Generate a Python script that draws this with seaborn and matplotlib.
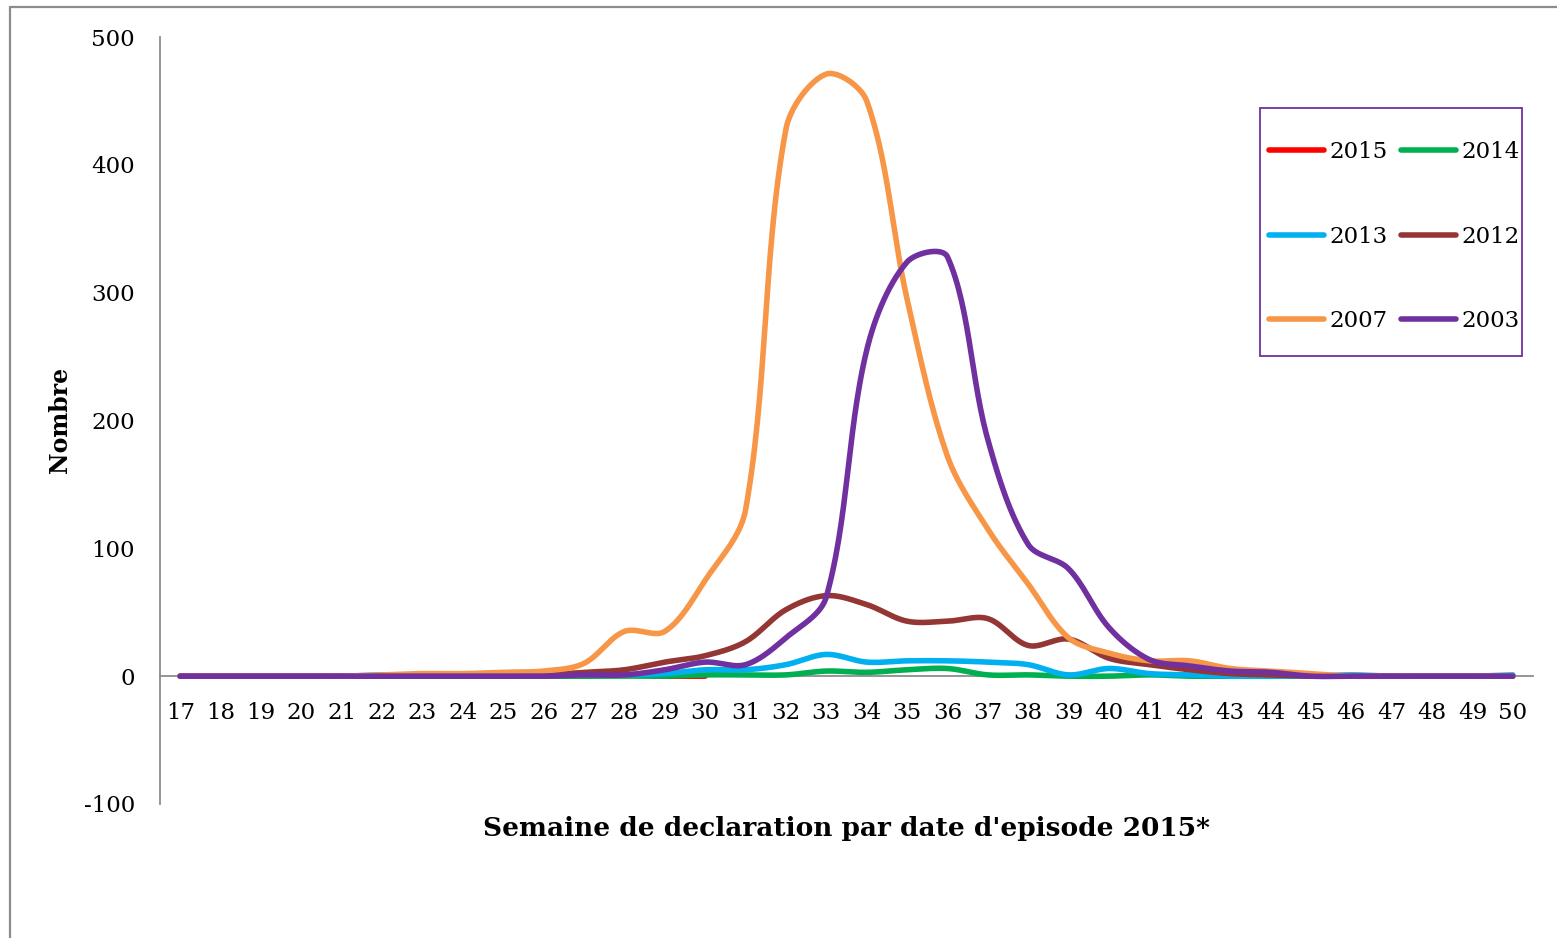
import numpy as np
import pandas as pd
import matplotlib
matplotlib.use("Agg")
import matplotlib.pyplot as plt
from matplotlib.lines import Line2D
from matplotlib.patches import Rectangle
import seaborn as sns

weeks = list(range(17, 51))
y2015 = [0, 0, 0, 0, 0, 0, 0, 0, 0, 0, 0, 1, 0, 0]  # weeks 17-30 only
y2014 = [0, 0, 0, 0, 0, 0, 0, 0, 0, 0, 0, 0, 0, 1, 1, 1, 4, 3, 5, 6, 1, 1, 0, 0, 1, 0, 0, 0, 0, 0, 0, 0, 0, 0]
y2013 = [0, 0, 0, 0, 0, 1, 1, 1, 1, 1, 1, 1, 2, 5, 5, 9, 17, 11, 12, 12, 11, 9, 1, 6, 2, 1, 0, 0, 0, 1, 0, 0, 0, 1]
y2012 = [0, 0, 0, 0, 0, 0, 0, 0, 0, 1, 3, 5, 11, 16, 27, 52, 63, 56, 43, 43, 45, 24, 29, 14, 9, 5, 2, 1, 0, 0, 0, 0, 0, 0]
y2007 = [0, 0, 0, 0, 0, 1, 2, 2, 3, 4, 10, 35, 35, 75, 130, 428, 471, 450, 295, 172, 115, 72, 30, 18, 12, 12, 6, 4, 2, 0, 0, 0, 0, 0]
y2003 = [0, 0, 0, 0, 0, 0, 0, 0, 0, 0, 1, 1, 5, 11, 9, 30, 62, 255, 324, 328, 185, 103, 84, 38, 13, 8, 4, 3, 0, 0, 0, 0, 0, 0]

series_names = ["2015", "2014", "2013", "2012", "2007", "2003"]
series_values = [y2015, y2014, y2013, y2012, y2007, y2003]
colors = ["#FF0000", "#00B050", "#00B0F0", "#943634", "#F79646", "#7030A0"]
yticks = [-100, 0, 100, 200, 300, 400, 500]
xlabel = "Semaine de declaration par date d'episode 2015*"
ylabel = "Nombre"

# pixel scale of the plot (for Excel-like smoothing computed in screen space)
SX, SY = 40.4, 1.28


def smooth(xs, ys, n=30):
    """Excel-style smoothed line (length-weighted Bezier) for rendering."""
    P = np.column_stack([np.asarray(xs, float) * SX, np.asarray(ys, float) * SY])
    m = len(P)
    if m < 2:
        return list(xs), list(ys)
    cout = np.zeros_like(P)
    cin = np.zeros_like(P)
    for i in range(m):
        prev = P[i - 1] if i > 0 else P[i]
        nxt = P[i + 1] if i < m - 1 else P[i]
        d1 = np.hypot(*(P[i] - prev))
        d2 = np.hypot(*(nxt - P[i]))
        T = nxt - prev
        s = d1 + d2
        if s == 0:
            cout[i] = P[i]
            cin[i] = P[i]
            continue
        cout[i] = P[i] + T * (d2 / s) / 3
        cin[i] = P[i] - T * (d1 / s) / 3
    t = np.linspace(0, 1, n, endpoint=False)[:, None]
    pts = []
    for i in range(m - 1):
        b = ((1 - t) ** 3 * P[i] + 3 * (1 - t) ** 2 * t * cout[i]
             + 3 * (1 - t) * t ** 2 * cin[i + 1] + t ** 3 * P[i + 1])
        pts.append(b)
    pts.append(P[-1][None, :])
    pts = np.vstack(pts)
    return list(pts[:, 0] / SX), list(pts[:, 1] / SY)


rows = []
for name, vals in zip(series_names, series_values):
    sx, sy = smooth(weeks[:len(vals)], vals)
    for k, (a, b) in enumerate(zip(sx, sy)):
        rows.append({"week": a, "value": b, "year": name, "order": k})
df = pd.DataFrame(rows)

sns.set_theme(style="white")
plt.rcParams["font.family"] = ["DejaVu Serif"]
plt.rcParams["text.color"] = "black"

fig = plt.figure(figsize=(15.57, 9.38), dpi=100)
ax = fig.add_axes([160 / 1557, 1 - 804 / 938, (1533 - 160) / 1557, (804 - 37) / 938])

sns.lineplot(data=df, x="week", y="value", hue="year", hue_order=series_names,
             palette=dict(zip(series_names, colors)), sort=False, estimator=None,
             units="year", linewidth=4.0, ax=ax, legend=False,
             solid_capstyle="round", solid_joinstyle="round")

ax.set_xlim(16.5, 50.5)
ax.set_ylim(-100, 500)
ax.set_xticks(weeks)
ax.set_xticklabels([str(w) for w in weeks])
ax.set_yticks(yticks)
ax.set_yticklabels([str(v) for v in yticks])
ax.tick_params(axis="both", length=0, labelsize=16.5, colors="black")
ax.tick_params(axis="x", pad=18.5)
ax.tick_params(axis="y", pad=18)

for s in ["top", "right"]:
    ax.spines[s].set_visible(False)
ax.spines["bottom"].set_position(("data", 0))
ax.spines["bottom"].set_color("#8c8c8c")
ax.spines["bottom"].set_linewidth(1.3)
ax.spines["bottom"].set_zorder(0)
ax.spines["left"].set_color("#8c8c8c")
ax.spines["left"].set_linewidth(1.3)

ax.set_xlabel("")
ax.set_ylabel("")
fig.text((160 + 1533) / 2 / 1557, 1 - 828 / 938, xlabel, ha="center", va="center",
         fontsize=19, fontweight="bold", color="black")
fig.text(60 / 1557, 1 - 420 / 938, ylabel, ha="center", va="center", rotation=90,
         fontsize=17, fontweight="bold", color="black")

# legend
handles = [Line2D([0], [0], color=c, lw=4.0, solid_capstyle="round") for c in colors]
order = [0, 2, 4, 1, 3, 5]
leg = ax.legend([handles[i] for i in order], [series_names[i] for i in order], ncol=2,
                loc="upper left", bbox_to_anchor=(0.808, 0.864), frameon=False,
                fontsize=16.5, borderpad=0, borderaxespad=0, handlelength=2.4,
                handletextpad=0.2, columnspacing=0.62, labelspacing=2.72)
for txt in leg.get_texts():
    txt.set_color("black")
ax.add_patch(Rectangle((0.801, 0.584), 0.191, 0.323, transform=ax.transAxes,
                       fill=False, edgecolor="#7030A0", linewidth=1.3, clip_on=False))

# outer chart border
fig.add_artist(Line2D([10 / 1557, 10 / 1557], [1 - 7 / 938, 0], color="#8c8c8c", lw=1.6))
fig.add_artist(Line2D([10 / 1557, 1], [1 - 7 / 938, 1 - 7 / 938], color="#8c8c8c", lw=1.6))

fig.savefig("out.png", dpi=100, facecolor="white")
